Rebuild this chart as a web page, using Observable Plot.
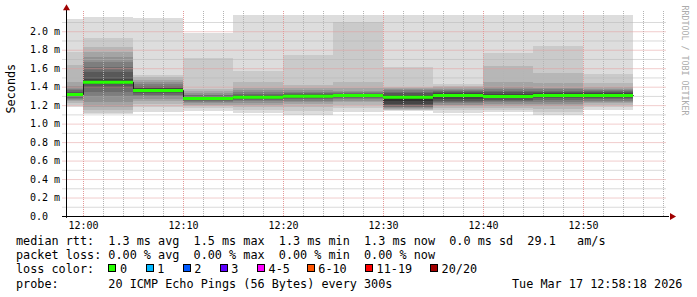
<!DOCTYPE html>
<html><head><meta charset="utf-8">
<script src="https://cdn.jsdelivr.net/npm/d3@7"></script>
<script src="https://cdn.jsdelivr.net/npm/@observablehq/plot@0.6"></script>
<style>
body{margin:0;background:#fff;}
#wrap{position:relative;width:697px;height:297px;overflow:hidden;font-family:"DejaVu Sans Mono",monospace;background:#fff;}
#chart svg{display:block}
.ln{position:absolute;font-size:11.8px;line-height:14px;white-space:pre;color:#000;font-family:"DejaVu Sans Mono",monospace;}
.box{position:absolute;width:6px;height:6px;border:1px solid #000;}
</style></head><body>
<div id="wrap"><div id="chart"></div><div id="legend"></div></div>
<script>
// ---- data ----
const binStarts = ["11:55","12:00","12:05","12:10","12:15","12:20","12:25","12:30","12:35","12:40","12:45","12:50"];
const median = [1.320,1.453,1.364,1.277,1.291,1.302,1.310,1.291,1.310,1.299,1.310,1.310];
// 20 sorted ping times (ms) per 5-minute round
const pings = [
  [1.183,1.205,1.225,1.24,1.255,1.268,1.28,1.29,1.30,1.312,1.328,1.335,1.345,1.36,1.38,1.41,1.45,1.634,1.775,2.132],
  [1.10,1.118,1.147,1.183,1.237,1.292,1.346,1.382,1.429,1.450,1.465,1.508,1.562,1.616,1.670,1.724,1.778,1.833,1.923,2.157],
  [1.129,1.18,1.21,1.245,1.27,1.29,1.31,1.33,1.345,1.358,1.372,1.385,1.395,1.41,1.43,1.45,1.475,1.50,1.526,2.146],
  [1.136,1.165,1.19,1.205,1.22,1.235,1.245,1.255,1.265,1.274,1.281,1.288,1.295,1.305,1.315,1.33,1.35,1.38,1.706,1.984],
  [1.111,1.15,1.185,1.205,1.225,1.24,1.255,1.268,1.278,1.287,1.296,1.303,1.313,1.325,1.34,1.36,1.39,1.453,1.569,2.175],
  [1.093,1.14,1.18,1.21,1.232,1.248,1.262,1.275,1.287,1.297,1.307,1.314,1.322,1.333,1.345,1.36,1.385,1.418,1.742,2.175],
  [1.129,1.17,1.205,1.23,1.25,1.265,1.28,1.29,1.30,1.308,1.312,1.316,1.322,1.33,1.34,1.355,1.382,1.453,2.096,2.175],
  [1.136,1.145,1.152,1.16,1.168,1.175,1.183,1.195,1.215,1.24,1.30,1.315,1.33,1.345,1.36,1.375,1.39,1.40,1.609,2.175],
  [1.118,1.15,1.17,1.19,1.205,1.22,1.235,1.25,1.265,1.285,1.32,1.33,1.34,1.35,1.365,1.38,1.395,1.41,1.429,2.175],
  [1.129,1.15,1.17,1.19,1.21,1.23,1.245,1.26,1.275,1.29,1.308,1.322,1.338,1.355,1.375,1.40,1.453,1.623,1.768,2.175],
  [1.095,1.13,1.16,1.19,1.215,1.235,1.255,1.272,1.288,1.302,1.318,1.33,1.342,1.355,1.37,1.39,1.436,1.544,1.84,2.175],
  [1.152,1.178,1.20,1.22,1.235,1.25,1.265,1.278,1.29,1.302,1.318,1.328,1.338,1.348,1.36,1.375,1.40,1.443,1.537,2.175]
];
const smokeGreys = ["#dddddd","#cacaca","#b7b7b7","#a4a4a4","#919191","#7e7e7e","#6b6b6b","#585858","#454545","#323232"];
const xTickLabels = ["12:00","12:10","12:20","12:30","12:40","12:50"];
const yTickValues = [0,0.2,0.4,0.6,0.8,1.0,1.2,1.4,1.6,1.8,2.0];
const lossLabels = ["0","1","2","3","4-5","6-10","11-19","20/20"];
const lossColors = ["#26ff00","#00b8ff","#0059ff","#5e00ff","#ff00ff","#ff5500","#ff0000","#a10000"];
const statLines = [
  "median rtt:  1.3 ms avg  1.5 ms max  1.3 ms min  1.3 ms now  0.0 ms sd  29.1   am/s",
  "packet loss: 0.00 % avg  0.00 % max  0.00 % min  0.00 % now",
  "loss color:",
  "probe:       20 ICMP Echo Pings (56 Bytes) every 300s"
];
const stamp = "Tue Mar 17 12:58:18 2026";
const yLabel = "Seconds";
const watermark = "RRDTOOL / TOBI OETIKER";

// ---- build ----
const toMin = s => { const [h,m] = s.split(":").map(Number); return (h-12)*60 + m; };
const xTicks = xTickLabels.map(toMin);
const xMin = -1.7, xMax = 58.3, yMax = 2.23;
const xMinor = d3.range(0, 59, 2).filter(v => v % 10 !== 0);
const yMinor = d3.range(0.1, 2.2, 0.2).map(v => +v.toFixed(1));

const smoke = [];
const medSegs = [];
const stepPts = [];
binStarts.forEach((s, b) => {
  const x1 = toMin(s), x2 = x1 + 5, p = pings[b];
  for (let i = 0; i < 10; i++) smoke.push({x1, x2, y1: p[i], y2: p[19 - i], fill: smokeGreys[i]});
  medSegs.push({x1, x2, y: median[b]});
  stepPts.push({x: x1, y: median[b]});
  if (b === binStarts.length - 1) stepPts.push({x: x2, y: median[b]});
});

const grid = {stroke: "#b4b4b4", strokeDasharray: "1,1"};
const mgrid = {stroke: "#e39a9a", strokeDasharray: "1,1"};

const chart = Plot.plot({
  width: 697, height: 232,
  marginLeft: 66, marginRight: 31, marginTop: 10, marginBottom: 16,
  x: {domain: [xMin, xMax], axis: null},
  y: {domain: [0, yMax], axis: null},
  color: {type: "identity"},
  style: {background: "#fff", fontFamily: "DejaVu Sans Mono", overflow: "visible", color: "#000"},
  marks: [
    Plot.rect(smoke, {x1: "x1", x2: "x2", y1: "y1", y2: "y2", fill: "fill", clip: true, shapeRendering: "crispEdges"}),
    Plot.ruleY(yMinor, {x1: xMin - 0.35, x2: xMax, ...grid}),
    Plot.ruleX(xMinor, {y1: 0, y2: yMax, ...grid}),
    Plot.ruleY(yTickValues.slice(1), {x1: xMin - 0.35, x2: xMax, ...mgrid}),
    Plot.ruleX(xTicks, {y1: 0, y2: yMax, ...mgrid}),
    Plot.line(stepPts, {x: "x", y: "y", curve: "step-after", stroke: "#202020", strokeWidth: 1, clip: true}),
    Plot.ruleY(medSegs, {y: "y", x1: "x1", x2: "x2", stroke: lossColors[0], strokeWidth: 3, clip: true}),
    Plot.ruleX([xMin], {y1: -0.02, y2: yMax + 0.02, stroke: "#000"}),
    Plot.ruleY([0], {x1: xMin - 0.4, x2: xMax + 0.3, stroke: "#000"}),
    Plot.dot([{x: xMax + 0.55, y: 0}], {x: "x", y: "y", symbol: "triangle", rotate: 90, r: 2.6, fill: "#a00000", stroke: "none"}),
    Plot.dot([{x: xMin, y: yMax + 0.025}], {x: "x", y: "y", symbol: "triangle", r: 2.6, fill: "#a00000", stroke: "none"}),
    Plot.axisY(yTickValues, {anchor: "left", tickSize: 0, tickPadding: 36.5, textAnchor: "start", fontSize: 10,
      tickFormat: d => d === 0 ? "0.0" : d.toFixed(1) + " m", fill: "#000"}),
    Plot.axisX(xTicks, {anchor: "bottom", tickSize: 0, tickPadding: 5, fontSize: 10,
      tickFormat: d => xTickLabels[xTicks.indexOf(d)], fill: "#000"}),
    Plot.text([yLabel], {frameAnchor: "left", dx: -55, rotate: -90, fontSize: 11.8, fill: "#000", text: d => d}),
    Plot.text([watermark], {frameAnchor: "top-right", dx: 21, dy: -5, rotate: 90, textAnchor: "start", fontSize: 8.3, fill: "#ababab", text: d => d})
  ]
});
document.getElementById("chart").appendChild(chart);

// ---- legend / stats below the svg ----
const leg = document.getElementById("legend");
const baselines = [245, 259.3, 273.4, 287.6];
const addText = (txt, left, baseline) => {
  const s = document.createElement("div");
  s.className = "ln"; s.textContent = txt;
  s.style.left = left + "px"; s.style.top = (baseline - 11.1) + "px";
  leg.appendChild(s);
};
statLines.forEach((t, i) => addText(t, 16, baselines[i]));
addText(stamp, 512, baselines[3]);
const boxX = [108.3, 145.7, 182.7, 219.7, 257, 306.7, 365, 430];
lossLabels.forEach((lab, i) => {
  const b = document.createElement("div");
  b.className = "box"; b.style.left = boxX[i] + "px"; b.style.top = "264.3px"; b.style.background = lossColors[i];
  leg.appendChild(b);
  addText(lab, boxX[i] + 11.6, baselines[2]);
});
</script>
</body></html>
